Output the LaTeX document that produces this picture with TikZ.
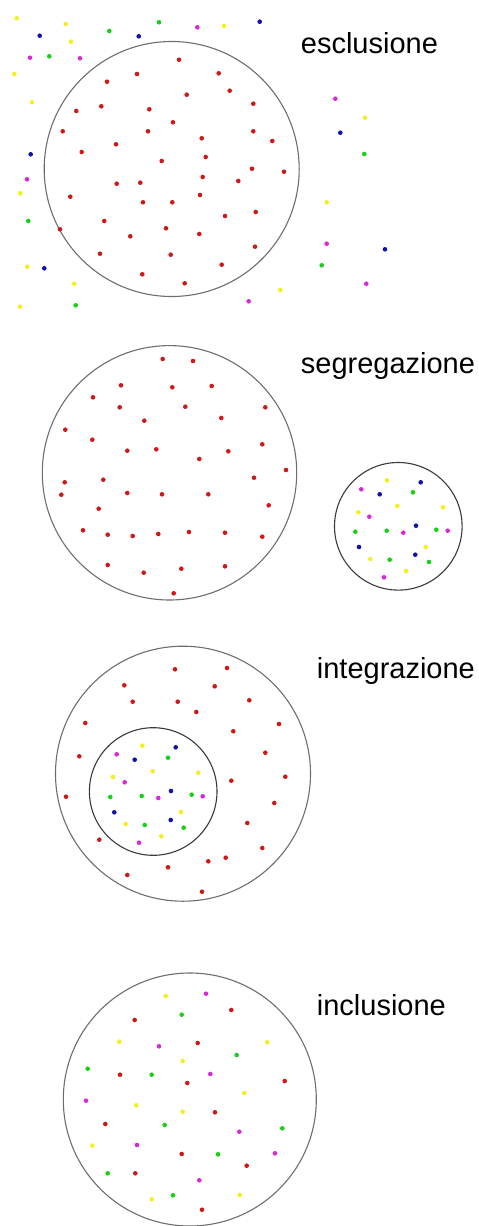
\documentclass[tikz,border=0pt]{standalone}
\usepackage{fontspec}
\setmainfont{Liberation Sans}
\definecolor{dR}{HTML}{D01818}
\definecolor{dY}{HTML}{F4F020}
\definecolor{dG}{HTML}{18D018}
\definecolor{dB}{HTML}{1010B0}
\definecolor{dM}{HTML}{D828D8}
\definecolor{ring}{HTML}{6E6E6E}
\definecolor{ringdark}{HTML}{3A3A3A}
\tikzset{
  ringline/.style={draw=ring, line width=1.1pt},
  innerring/.style={draw=ringdark, line width=1.1pt},
  lbl/.style={anchor=base west, inner sep=0pt, font=\fontsize{29}{34}\selectfont},
}
\newcommand{\dotset}[2]{\foreach \p in {#2} {\fill[#1] \p circle (2.3pt);}}
\begin{document}
\begin{tikzpicture}[x=1pt,y=-1pt]
\useasboundingbox (0,0) rectangle (479,1226);
\fill[white] (0,0) rectangle (479,1226);

% ---------- esclusione ----------
\draw[ringline] (171.7,169) circle (127.5pt);
\node[lbl] (t1) at (300.7,53.3) {esclusione};
\dotset{dY}{(16.7,18.3),(65.7,24),(224,26),(71,41.7),(14.3,74),(32,102.3),(20.3,193.3),(27.3,266.7),(74.3,283.7),(20,306.7),(365,117.7),(326.7,202.3),(280.3,290)}
\dotset{dG}{(159,22.3),(109.3,31),(49.3,56.3),(28.3,221),(75.7,305.3),(364.3,154),(321.7,265.3)}
\dotset{dM}{(197.3,27.3),(30,57.7),(80,58.3),(27,179.3),(335.3,98.7),(326.7,243.7),(366.3,283.7),(248.7,301.3)}
\dotset{dB}{(259.7,21.7),(39.7,35.7),(138.7,36.3),(30.7,154.3),(44.3,268.3),(340.3,132.7),(385,249.3)}
\dotset{dR}{(179,59.7),(218.7,73.3),(137,74),(107,81.7),(229.7,90.7),(186.7,94.7),(253.3,103.7),(101.3,106.3),(149.3,109.3),(76.3,111),(173,122.3),(62.7,131.3),(148,131.3),(253.3,131.3),(201.7,138.3),(272.3,141),(116,144.3),(81.7,152),(205.7,157),(161.7,161),(252,168.7),(284,171.7),(202.7,177),(238.3,181),(116.7,183.7),(140.3,182.7),(200,195),(70.3,196.7),(143,202.3),(172.3,202.3),(255.7,212),(225,216),(104.3,221),(166,228.3),(60,229.3),(199.3,234),(130.3,236.3),(255,246.7),(100,253.7),(170.7,254.7),(221.7,264.7),(142.3,274.3),(184.7,283.3)}

% ---------- segregazione ----------
\draw[ringline] (169.5,472.8) circle (127.2pt);
\draw[innerring] (398.3,526.3) circle (63.8pt);
\node[lbl] (t2) at (300.7,373.3) {segregazione};
\dotset{dR}{(162.7,359),(193,361),(121,385.3),(172.3,387.3),(211.7,386),(93,397.3),(119.7,407.3),(185.3,406.7),(265.3,407.3),(144.3,420.7),(221.3,418),(65.3,429.7),(92.3,439.7),(127.3,450.7),(156.3,449.3),(228.3,451.3),(262.3,444.3),(199.3,459),(286,470),(254,477.7),(64.7,482.3),(103.3,479.7),(61.3,494.7),(127.3,493),(162,494.3),(208.3,494.3),(268.7,505.3),(98.7,508.7),(83,530.3),(107.7,534.7),(132.7,536),(158.3,534),(189,532),(225,532.7),(262.3,536.7),(107.7,565),(143.7,572.7),(181.3,568.7),(225,566.3),(173.7,593.3)}
\dotset{dY}{(387,480.3),(397.3,506),(443,507.3),(358.3,512.3),(425.7,547),(370.3,559),(406,571)}
\dotset{dB}{(420.7,482.3),(379.7,494.3),(416,525.7),(359,547),(415.3,554.7)}
\dotset{dM}{(361.3,489.3),(369.3,516.7),(403.3,532.7),(447.7,530.7),(384,577.3)}
\dotset{dG}{(413,492.3),(355.3,531.7),(386.7,530.7),(436.3,529.7),(389.7,559.7),(429,562)}

% ---------- integrazione ----------
\draw[ringline] (183,773.7) circle (127.5pt);
\draw[innerring] (153.2,791.5) circle (63.8pt);
\node[lbl] (t3) at (316.7,678.3) {integrazione};
\dotset{dR}{(175,669.3),(227,668),(124.3,685.3),(214.7,686.3),(132.7,701.7),(177.7,701.7),(249.3,700.3),(196.3,712),(85.3,723),(279,724),(233.3,731.3),(79.3,756.3),(265.3,752.7),(285.3,776.7),(231.3,780.7),(66,796.7),(274.3,803),(247.3,823),(99.3,839.7),(262.3,848),(225.7,857.7),(208.3,861.3),(168,867.3),(127.3,875),(202,891.7)}
\dotset{dY}{(142.3,745.7),(152.7,771.3),(198.3,772.7),(113,777),(181,812),(125.7,824),(161.3,836.3)}
\dotset{dB}{(175.7,747.3),(134.7,759.7),(171,791),(114.3,812.3),(170.7,820)}
\dotset{dM}{(116.7,754.3),(124.7,782.3),(158.3,798),(202.7,796.3),(139,842.7)}
\dotset{dG}{(168,757.7),(110.3,797),(141.7,796),(191.7,794.7),(144.7,825),(183.7,827.7)}

% ---------- inclusione ----------
\draw[ringline] (189.8,1099.5) circle (126.5pt);
\node[lbl] (t4) at (316.7,1015) {inclusione};
\dotset{dY}{(165.7,996),(119.3,1041.7),(267.3,1042.3),(182.7,1061),(244.3,1093),(136.3,1105.3),(182.7,1111.7),(92.3,1145.7),(151.7,1199.3),(239.7,1195)}
\dotset{dM}{(206,993.7),(159,1046.3),(210.3,1074),(86,1100.7),(239.3,1131.7),(137,1145),(275,1153.3),(199.3,1180.3)}
\dotset{dG}{(181.7,1014.7),(236.7,1055),(87.7,1068.7),(151.7,1074.7),(164.7,1125),(282.3,1128.3),(218,1154.3),(107.7,1173.3),(173,1195.3)}
\dotset{dR}{(231.3,1010),(134.7,1020),(197.7,1043),(120,1074.7),(187.3,1083),(284.7,1081),(215,1112.3),(105.3,1124),(181.7,1154),(246.7,1165.7),(135.3,1173.3),(202,1209.7)}
\end{tikzpicture}
\end{document}
